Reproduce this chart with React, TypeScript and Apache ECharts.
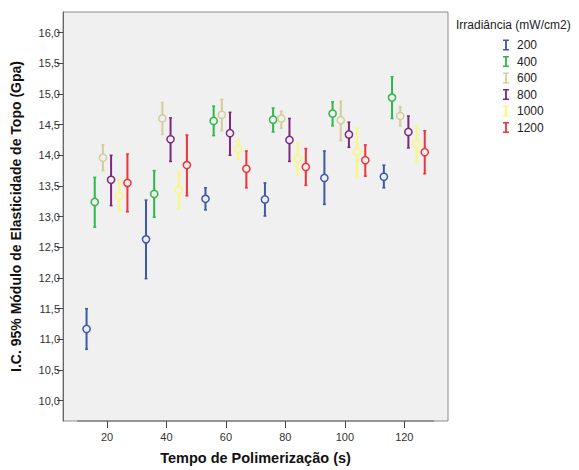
import React, { useEffect, useRef } from "react";
import * as echarts from "echarts";

const times = [20, 40, 60, 80, 100, 120];
const irradiances = ["200", "400", "600", "800", "1000", "1200"];
const colors = ["#3E58AC", "#2EB848", "#D3CE97", "#7C287D", "#FBF873", "#EF3338"];

const mean200 = [11.17, 12.63, 13.29, 13.28, 13.63, 13.65];
const low200 = [10.84, 11.99, 13.11, 13.01, 13.2, 13.47];
const high200 = [11.5, 13.27, 13.47, 13.55, 14.07, 13.84];

const mean400 = [13.24, 13.37, 14.56, 14.58, 14.68, 14.94];
const low400 = [12.83, 12.99, 14.32, 14.38, 14.48, 14.6];
const high400 = [13.64, 13.75, 14.8, 14.77, 14.87, 15.28];

const mean600 = [13.96, 14.6, 14.66, 14.6, 14.57, 14.64];
const low600 = [13.75, 14.34, 14.4, 14.44, 14.24, 14.48];
const high600 = [14.17, 14.86, 14.91, 14.72, 14.88, 14.79];

const mean800 = [13.6, 14.26, 14.36, 14.25, 14.34, 14.38];
const low800 = [13.18, 13.9, 14.0, 13.9, 14.13, 14.12];
const high800 = [14.0, 14.61, 14.7, 14.6, 14.54, 14.64];

const mean1000 = [13.34, 13.43, 14.1, 13.94, 14.05, 14.19];
const low1000 = [13.09, 13.13, 13.93, 13.68, 13.65, 13.89];
const high1000 = [13.6, 13.74, 14.26, 14.2, 14.45, 14.48];

const mean1200 = [13.55, 13.84, 13.78, 13.81, 13.92, 14.05];
const low1200 = [13.08, 13.34, 13.47, 13.51, 13.66, 13.7];
const high1200 = [14.02, 14.33, 14.07, 14.11, 14.17, 14.4];

const yTicks = [10, 10.5, 11, 11.5, 12, 12.5, 13, 13.5, 14, 14.5, 15, 15.5, 16];
const xTicks = [20, 40, 60, 80, 100, 120];

const means = [mean200, mean400, mean600, mean800, mean1000, mean1200];
const lows = [low200, low400, low600, low800, low1000, low1200];
const highs = [high200, high400, high600, high800, high1000, high1200];

const FONT = "'Liberation Sans', Arial, sans-serif";
const Y_MIN = 9.67;
const Y_MAX = 16.335;
const DODGE = 2.75;

export default function App() {
  const ref = useRef<HTMLDivElement>(null);
  useEffect(() => {
    document.body.style.margin = "0";
    const chart = echarts.init(ref.current!, undefined, { renderer: "svg" });

    const errorSeries = irradiances.map((name, i) => ({
      name,
      type: "custom",
      itemStyle: { color: colors[i] },
      encode: { x: 0, y: [1, 2, 3] },
      data: times.map((t, j) => [t + (i - 2.5) * DODGE, lows[i][j], highs[i][j], means[i][j]]),
      renderItem: (params: any, api: any) => {
        const x = api.value(0);
        const pLo = api.coord([x, api.value(1)]);
        const pHi = api.coord([x, api.value(2)]);
        const pM = api.coord([x, api.value(3)]);
        const c = colors[i];
        return {
          type: "group",
          children: [
            { type: "line", shape: { x1: pLo[0], y1: pLo[1], x2: pHi[0], y2: pHi[1] }, style: { stroke: c, lineWidth: 2 } },
            { type: "line", shape: { x1: pLo[0] - 1.5, y1: pLo[1], x2: pLo[0] + 1.5, y2: pLo[1] }, style: { stroke: c, lineWidth: 1.5 } },
            { type: "line", shape: { x1: pHi[0] - 1.5, y1: pHi[1], x2: pHi[0] + 1.5, y2: pHi[1] }, style: { stroke: c, lineWidth: 1.5 } },
            { type: "circle", shape: { cx: pM[0], cy: pM[1], r: 3.6 }, style: { fill: "#F0F0F0", stroke: c, lineWidth: 1.5 } },
          ],
        };
      },
    }));

    chart.setOption({
      animation: false,
      textStyle: { fontFamily: FONT },
      grid: {
        left: 63,
        right: 131,
        top: 12,
        bottom: 46,
        show: true,
        backgroundColor: "#F0F0F0",
        borderColor: "#8c8c8c",
        borderWidth: 1,
      },
      xAxis: {
        type: "value",
        min: 5.2,
        max: 134.7,
        name: "Tempo de Polimerização (s)",
        nameLocation: "middle",
        nameGap: 29,
        nameTextStyle: { fontFamily: FONT, fontSize: 14.5, fontWeight: "bold", color: "#111" },
        axisLine: { show: false },
        axisTick: { show: true, length: 7, lineStyle: { color: "#444" }, customValues: xTicks },
        axisLabel: { color: "#333", fontSize: 11, fontFamily: FONT, margin: 10, customValues: xTicks },
        splitLine: { show: false },
      },
      yAxis: {
        type: "value",
        min: Y_MIN,
        max: Y_MAX,
        name: "I.C. 95% Módulo de Elasticidade de Topo (Gpa)",
        nameLocation: "middle",
        nameRotate: 90,
        nameGap: 40,
        nameTextStyle: { fontFamily: FONT, fontSize: 14, fontWeight: "bold", color: "#111" },
        axisLine: { show: true, lineStyle: { color: "#666" } },
        axisTick: { show: true, length: 6, lineStyle: { color: "#444" }, customValues: yTicks },
        axisLabel: {
          color: "#333",
          fontSize: 11,
          fontFamily: FONT,
          margin: 3,
          customValues: yTicks,
          formatter: (v: number) => v.toFixed(1).replace(".", ","),
        },
        splitLine: { show: false },
      },
      legend: {
        data: irradiances,
        orient: "vertical",
        left: 498,
        top: 34,
        itemWidth: 6,
        itemHeight: 11,
        itemGap: 4.5,
        icon: "path://M0,0H6V1.5H3.9V9.5H6V11H0V9.5H2.1V1.5H0Z",
        textStyle: { fontFamily: FONT, fontSize: 12, color: "#222", padding: [0, 0, 0, 3] },
        selectedMode: false,
      },
      graphic: [
        {
          type: "text",
          left: 456,
          top: 19,
          style: { text: "Irradiância (mW/cm2)", fontFamily: FONT, fontSize: 12, fill: "#222" },
        },
      ],
      series: [
        ...errorSeries,
        {
          name: "axis",
          type: "line",
          silent: true,
          symbol: "none",
          clip: false,
          lineStyle: { color: "#666", width: 1 },
          data: [
            [10, Y_MIN],
            [130, Y_MIN],
          ],
        },
      ],
    });
    return () => chart.dispose();
  }, []);
  return <div ref={ref} style={{ width: 579, height: 470 }} />;
}
